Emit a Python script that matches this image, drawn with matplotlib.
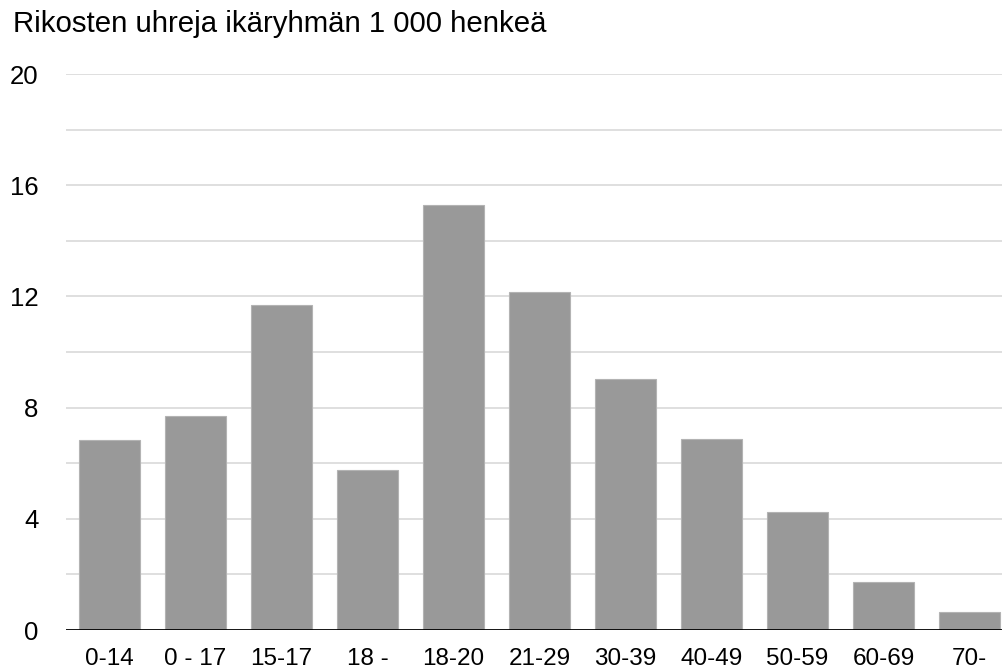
import matplotlib
matplotlib.use("Agg")
import matplotlib.pyplot as plt

age_groups = ["0-14", "0 - 17", "15-17", "18 -", "18-20", "21-29", "30-39", "40-49", "50-59", "60-69", "70-"]
victims_per_1000 = [6.83, 7.70, 11.69, 5.76, 15.29, 12.16, 9.03, 6.87, 4.24, 1.73, 0.65]
y_ticks = [0, 4, 8, 12, 16, 20]
grid_levels = [2, 4, 6, 8, 10, 12, 14, 16, 18, 20]

plt.rcParams["font.family"] = ["Liberation Sans", "DejaVu Sans"]

W, H = 1003, 670
fig = plt.figure(figsize=(W / 100, H / 100), dpi=100)
# axes in pixel terms: left 66.5, right 1003, y=0 at 630, y=20 at 74
ax = fig.add_axes([66.5 / W, (H - 630) / H, (W - 66.5) / W, (630 - 74) / H])

x = list(range(len(age_groups)))
ax.bar(x, victims_per_1000, width=0.71, color="#999999", edgecolor="#b3b3b3", linewidth=0.8, zorder=3)

for g in grid_levels:
    ax.axhline(g, color="#d9d9d9", linewidth=1.2, zorder=1)
ax.axhline(0, color="black", linewidth=2, zorder=4)

ax.set_xlim(-0.5, 10 + (W - 969.5) / 86)
ax.set_ylim(0, 20)
ax.set_yticks(y_ticks)
ax.set_xticks(x)
ax.set_xticklabels(age_groups)
ax.tick_params(axis="y", length=0, pad=20, labelsize=18.5)
ax.tick_params(axis="x", length=0, pad=13, labelsize=17.5)
for s in ax.spines.values():
    s.set_visible(False)
ax.set_facecolor("white")

fig.text(13 / W, 1 - 32 / H, "Rikosten uhreja ikäryhmän 1 000 henkeä", fontsize=21.2, ha="left", va="baseline")

fig.savefig("out.png", dpi=100, facecolor="white")
